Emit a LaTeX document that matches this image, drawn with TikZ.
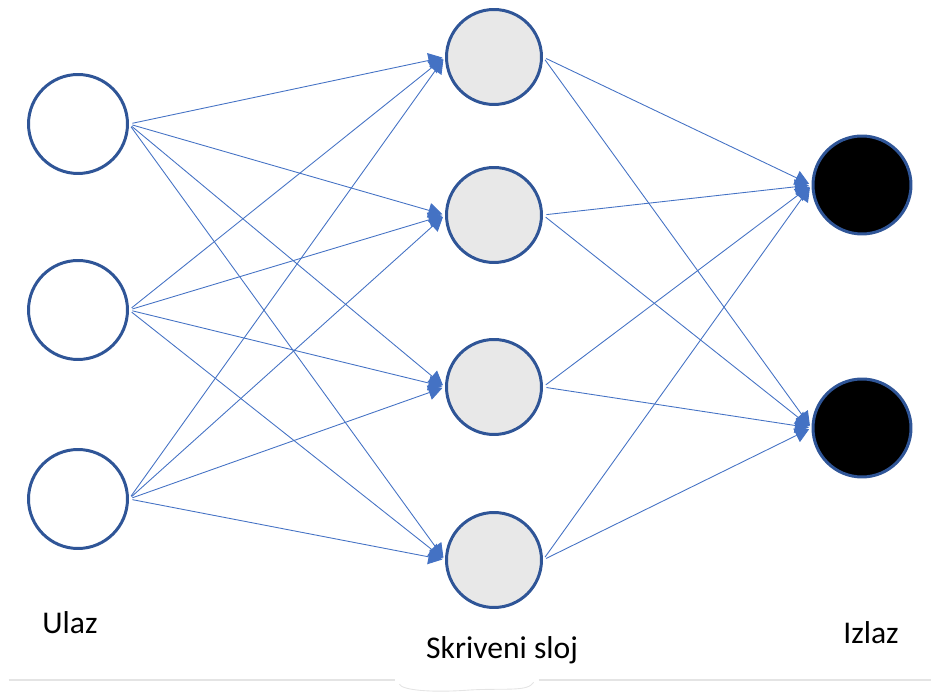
\documentclass[tikz,border=0pt]{standalone}
\usepackage{fontspec}
\setmainfont{Carlito}
\usepackage{tikz}
\usetikzlibrary{arrows.meta,positioning}

\definecolor{ringblue}{HTML}{2F5597}
\definecolor{edgeblue}{HTML}{4472C4}
\definecolor{hiddengray}{HTML}{E8E8E8}
\definecolor{cutgray}{HTML}{E4E4E4}

\tikzset{
  neuron/.style={circle,draw=ringblue,line width=1.7pt,inner sep=0pt},
  inp/.style={neuron,fill=white,minimum size=1.98cm},
  hid/.style={neuron,fill=hiddengray,minimum size=1.9cm},
  outp/.style={neuron,fill=black,minimum size=1.96cm},
  syn/.style={-{Triangle[length=8pt,width=8.5pt]},edgeblue,line width=0.5pt},
  layer/.style={font=\fontsize{18}{22}\selectfont,anchor=base,inner sep=0pt}
}

\begin{document}
\begin{tikzpicture}[x=0.02cm,y=-0.02cm,shorten <=2pt,shorten >=1.5pt]
  \useasboundingbox (0,0) rectangle (934,695);

  \node[inp] (i1) at (78,124) {};
  \node[inp] (i2) at (78,310) {};
  \node[inp] (i3) at (78,499) {};

  \node[hid] (h1) at (494,57) {};
  \node[hid] (h2) at (494,215) {};
  \node[hid] (h3) at (494,387) {};
  \node[hid] (h4) at (494,560) {};

  \node[outp] (o1) at (862,185) {};
  \node[outp] (o2) at (862,428) {};

  \node[layer] (lin) at (70,634) {Ulaz};
  \node[layer] (lhid) at (502,659) {Skriveni sloj};
  \node[layer] (lout) at (871,644) {Izlaz};

  \path[syn]
    (i1.east) edge (h1.west)
    (i1.east) edge (h2.west)
    (i1.east) edge (h3.west)
    (i1.east) edge (h4.west)
    (i2.east) edge (h1.west)
    (i2.east) edge (h2.west)
    (i2.east) edge (h3.west)
    (i2.east) edge (h4.west)
    (i3.east) edge (h1.west)
    (i3.east) edge (h2.west)
    (i3.east) edge (h3.west)
    (i3.east) edge (h4.west)
    (h1.east) edge (o1.west)
    (h1.east) edge (o2.west)
    (h2.east) edge (o1.west)
    (h2.east) edge (o2.west)
    (h3.east) edge (o1.west)
    (h3.east) edge (o2.west)
    (h4.east) edge (o1.west)
    (h4.east) edge (o2.west);

  % torn edge of the screenshot
  \draw[cutgray,line width=0.6pt] (5,680) -- (398,680);
  \draw[cutgray,line width=0.6pt] (535,680) -- (934,680);
  \draw[cutgray,line width=0.5pt] (398,681) .. controls (402,690) and (430,693) .. (470,690)
    .. controls (505,688) and (528,692) .. (535,680);
\end{tikzpicture}
\end{document}
